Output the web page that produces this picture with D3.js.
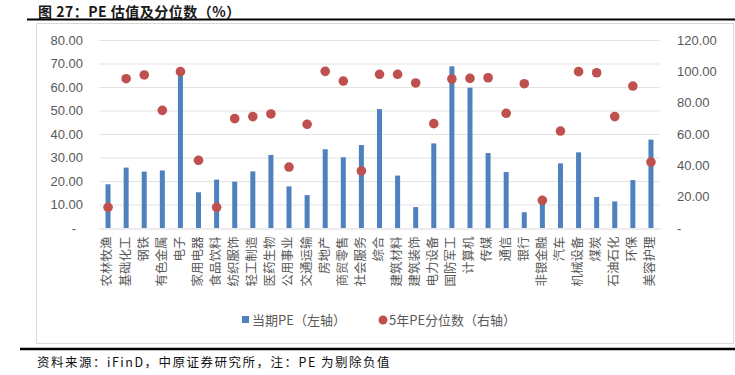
<!DOCTYPE html>
<html>
<head>
<meta charset="utf-8">
<script src="https://cdn.jsdelivr.net/npm/d3@7"></script>
<style>
  body { margin: 0; background: #fff; }
  svg { display: block; }
</style>
</head>
<body>
<div id="container"></div>
<script>
/* DATA */
const categories = ["农林牧渔","基础化工","钢铁","有色金属","电子","家用电器","食品饮料","纺织服饰","轻工制造","医药生物",
  "公用事业","交通运输","房地产","商贸零售","社会服务","综合","建筑材料","建筑装饰","电力设备","国防军工",
  "计算机","传媒","通信","银行","非银金融","汽车","机械设备","煤炭","石油石化","环保","美容护理"]
const peNow = [18.6, 25.7, 24.0, 24.5, 67.0, 15.2, 20.6, 19.7, 24.1, 31.1,
  17.7, 14.0, 33.5, 30.1, 35.3, 50.6, 22.3, 8.9, 36.0, 68.8,
  59.7, 31.9, 23.8, 6.7, 11.0, 27.5, 32.2, 13.2, 11.3, 20.4, 37.6]
const pePct = [13.2, 95.3, 97.7, 75.1, 99.8, 43.2, 13.2, 69.8, 71.1, 72.8,
  38.9, 66.2, 100.0, 93.8, 36.4, 98.1, 98.1, 92.6, 66.6, 95.1,
  95.5, 95.9, 73.2, 92.1, 17.7, 61.9, 99.8, 99.1, 71.1, 90.6, 42.1]
const leftTicks = [0, 10, 20, 30, 40, 50, 60, 70, 80]
const rightTicks = [0, 20, 40, 60, 80, 100, 120]
const legendLabels = ["当期PE（左轴）", "5年PE分位数（右轴）"]
const titleText = "图 27：PE 估值及分位数（%）"
const sourceText = "资料来源：iFinD，中原证券研究所，注：PE 为剔除负值"

/* CONSTANTS */
const width = 735, height = 375
const plot = {left: 99, right: 660, top: 40, bottom: 228}
const blue = "#4f81bd", red = "#c0504d", grey = "#595959"
const latin = "'Liberation Sans', Arial, sans-serif"
const cjk = "'Noto Sans CJK SC', 'Liberation Sans', sans-serif"

const svg = d3.select("#container")
  .append("svg")
    .attr("width", width)
    .attr("height", height)

// title + rules
svg.append("text")
  .attr("x", 38).attr("y", 16.5)
  .attr("font-family", cjk).attr("font-weight", "bold")
  .attr("font-size", 14).attr("fill", "#1a1a1a")
  .attr("letter-spacing", 0.5)
  .text(titleText)
svg.append("line")
  .attr("x1", 27).attr("x2", 735).attr("y1", 19.5).attr("y2", 19.5)
  .attr("stroke", "#000").attr("stroke-width", 2)

// chart frame
svg.append("rect")
  .attr("x", 36.5).attr("y", 23.5).attr("width", 697).attr("height", 320)
  .attr("fill", "none").attr("stroke", "#d9d9d9")

svg.append("line")
  .attr("x1", 20).attr("x2", 735).attr("y1", 349).attr("y2", 349)
  .attr("stroke", "#000").attr("stroke-width", 2.5)
svg.append("text")
  .attr("x", 37).attr("y", 367)
  .attr("font-family", cjk).attr("font-size", 12.5).attr("fill", "#111")
  .attr("letter-spacing", 1.5)
  .text(sourceText)

// SCALES
const xScale = d3.scaleBand()
  .domain(categories)
  .range([plot.left, plot.right])
const yLeft = d3.scaleLinear().domain([0, 80]).range([plot.bottom, plot.top])
const yRight = d3.scaleLinear().domain([0, 120]).range([plot.bottom, plot.top])

// gridlines
svg.append("g")
  .selectAll("line")
  .data(leftTicks.slice(1))
  .join("line")
    .attr("x1", plot.left).attr("x2", plot.right)
    .attr("y1", d => yLeft(d) + 0.5).attr("y2", d => yLeft(d) + 0.5)
    .attr("stroke", "#e3e3e3")

// axes
const fmt = d => d === 0 ? "-" : d3.format(".2f")(d)
const axL = svg.append("g")
  .attr("transform", `translate(${plot.left - 16},0)`)
  .call(d3.axisLeft(yLeft).tickValues(leftTicks).tickFormat(fmt).tickSize(0).tickPadding(0))
axL.select(".domain").remove()
axL.selectAll("text")
  .attr("font-family", latin).attr("font-size", 13).attr("fill", grey)
  .attr("dx", d => d === 0 ? -7 : 0)

const axR = svg.append("g")
  .attr("transform", `translate(${plot.right + 17},0)`)
  .call(d3.axisRight(yRight).tickValues(rightTicks).tickFormat(fmt).tickSize(0).tickPadding(0))
axR.select(".domain").remove()
axR.selectAll("text")
  .attr("font-family", latin).attr("font-size", 13).attr("fill", grey)

const axB = svg.append("g")
  .attr("transform", `translate(0,${plot.bottom + 0.5})`)
  .call(d3.axisBottom(xScale).tickSize(0).tickPadding(0))
axB.select(".domain").attr("stroke", "#d9d9d9")
axB.selectAll("text")
  .attr("font-family", cjk).attr("font-size", 12.5).attr("fill", grey)
  .attr("text-anchor", "end")
  .attr("dy", null)
  .attr("y", 0)
  .attr("transform", "translate(0,8) rotate(-90)")
  .attr("dominant-baseline", "middle")

// bars
const barW = 5
svg.append("g")
  .selectAll("rect")
  .data(categories)
  .join("rect")
    .attr("x", d => xScale(d) + xScale.bandwidth() / 2 - barW / 2)
    .attr("y", (d, i) => yLeft(peNow[i]))
    .attr("width", barW)
    .attr("height", (d, i) => yLeft(0) - yLeft(peNow[i]))
    .attr("fill", blue)

// dots
svg.append("g")
  .selectAll("circle")
  .data(categories)
  .join("circle")
    .attr("cx", d => xScale(d) + xScale.bandwidth() / 2)
    .attr("cy", (d, i) => yRight(pePct[i]))
    .attr("r", 4.8)
    .attr("fill", red)

// legend
const lg = svg.append("g").attr("font-family", cjk).attr("font-size", 13).attr("fill", grey)
lg.append("rect").attr("x", 242).attr("y", 316).attr("width", 7).attr("height", 7).attr("fill", blue)
lg.append("text").attr("x", 252).attr("y", 324.5).text(legendLabels[0])
lg.append("circle").attr("cx", 383).attr("cy", 320).attr("r", 4.5).attr("fill", red)
lg.append("text").attr("x", 389).attr("y", 324.5).text(legendLabels[1])
</script>
</body>
</html>
